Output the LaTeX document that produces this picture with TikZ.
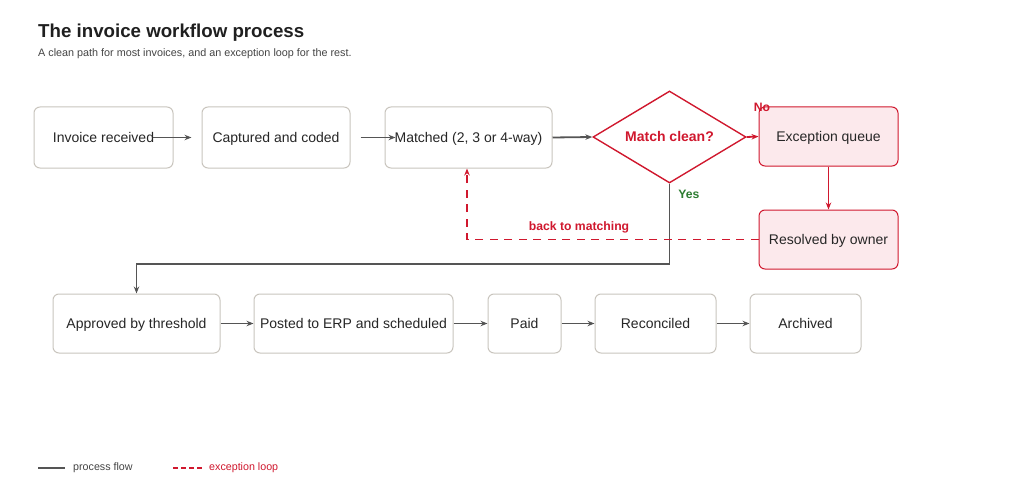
\documentclass[tikz,border=0pt]{standalone}
\usepackage{fontspec}
\setmainfont{Liberation Sans}
\usetikzlibrary{arrows.meta,shapes.geometric,calc}
\definecolor{boxline}{HTML}{C9C5BE}
\definecolor{flowc}{HTML}{555555}
\definecolor{exred}{HTML}{D0182E}
\definecolor{exfill}{HTML}{FCE9EC}
\definecolor{yesgreen}{HTML}{2E7D32}
\definecolor{titlec}{HTML}{1F1F1F}
\definecolor{subc}{HTML}{444444}
\tikzset{
  stepbox/.style={draw=boxline, line width=1pt, rounded corners=6pt, fill=white,
    minimum height=61pt, inner sep=0pt, text height=10pt, text depth=0pt,
    font=\fontsize{14}{16}\selectfont, text=black!85},
  exbox/.style={stepbox, draw=exred, fill=exfill, minimum height=59pt},
  decision/.style={diamond, draw=exred, line width=1.4pt, fill=white, minimum width=153pt,
    minimum height=92pt, inner sep=0pt, aspect=1.66, text=exred, text height=10pt, text depth=0pt,
    font=\bfseries\fontsize{14}{16}\selectfont},
  flow/.style={draw=flowc, line width=1.8pt, -{Stealth[length=7pt,width=5.5pt]}},
  exflow/.style={draw=exred, line width=1.8pt, -{Stealth[length=7pt,width=5.5pt]}},
  exloop/.style={draw=exred, line width=1.8pt, dash pattern=on 8pt off 6.5pt, -{Stealth[length=7pt,width=5.5pt]}},
  lbl/.style={font=\bfseries\fontsize{12.2}{14}\selectfont, inner sep=0pt}
}
\begin{document}
\begin{tikzpicture}[x=1pt,y=-1pt]
\useasboundingbox[fill=white] (0,0) rectangle (1017,492);
\node[anchor=base west, inner sep=0pt, text=titlec, font=\bfseries\fontsize{18.7}{22}\selectfont] (title) at (38,38) {The invoice workflow process};
\node[anchor=base west, inner sep=0pt, text=subc, font=\fontsize{10.8}{13}\selectfont] (sub) at (38,57) {A clean path for most invoices, and an exception loop for the rest.};

% top row
\node[stepbox, minimum width=139pt] (inv) at (103.5,137.5) {Invoice received};
\node[stepbox, minimum width=148pt] (cap) at (276,137.5) {Captured and coded};
\node[stepbox, minimum width=167pt] (mat) at (468.5,137.5) {Matched (2, 3 or 4-way)};
\node[decision] (dia) at (669.5,137) {Match clean?};
\node[exbox, minimum width=139pt] (exq) at (828.5,136.5) {Exception queue};
\node[exbox, minimum width=139pt] (res) at (828.5,239.5) {Resolved by owner};

% bottom row
\node[stepbox, minimum width=167pt, minimum height=59pt] (app) at (136.5,323.5) {Approved by threshold};
\node[stepbox, minimum width=199pt, minimum height=59pt] (pos) at (353.5,323.5) {Posted to ERP and scheduled};
\node[stepbox, minimum width=73pt, minimum height=59pt] (paid) at (524.5,323.5) {Paid};
\node[stepbox, minimum width=121pt, minimum height=59pt] (rec) at (655.5,323.5) {Reconciled};
\node[stepbox, minimum width=111pt, minimum height=59pt] (arc) at (805.5,323.5) {Archived};

% connectors
\draw[flow] ([xshift=-21pt]inv.east) -- ([xshift=-10pt]cap.west);
\draw[flow] ([xshift=10pt]cap.east) -- ([xshift=11pt]mat.west);
\draw[flow] (mat.east) -- (dia.west);
\draw[exflow] (dia.east) -- (exq.west);
\draw[exflow] (exq.south) -- (res.north);
\draw[flow] (dia.south) -- ++(0,80) -| (app.north);
\draw[exloop] (res.west) -| ([xshift=-1.5pt]mat.south);
\draw[flow] (app.east) -- (pos.west);
\draw[flow] (pos.east) -- (paid.west);
\draw[flow] (paid.east) -- (rec.west);
\draw[flow] (rec.east) -- (arc.west);

% labels
\node[lbl, text=exred] (nolbl) at (762,107) {No};
\node[lbl, text=yesgreen] (yeslbl) at (689,194) {Yes};
\node[lbl, text=exred] (backlbl) at (579,227) {back to matching};

% legend
\coordinate (l1a) at (38,468);
\coordinate (l1b) at (65,468);
\draw[flowc, line width=1.8pt] (l1a) -- (l1b);
\node[anchor=west, inner sep=0pt, text=subc, font=\fontsize{10.7}{12}\selectfont] (leg1) at (73,468) {process flow};
\coordinate (l2a) at (173,468);
\coordinate (l2b) at (203,468);
\draw[exred, line width=1.8pt, dash pattern=on 5pt off 3pt] (l2a) -- (l2b);
\node[anchor=west, inner sep=0pt, text=exred, font=\fontsize{10.7}{12}\selectfont] (leg2) at (209,468) {exception loop};
\end{tikzpicture}
\end{document}
